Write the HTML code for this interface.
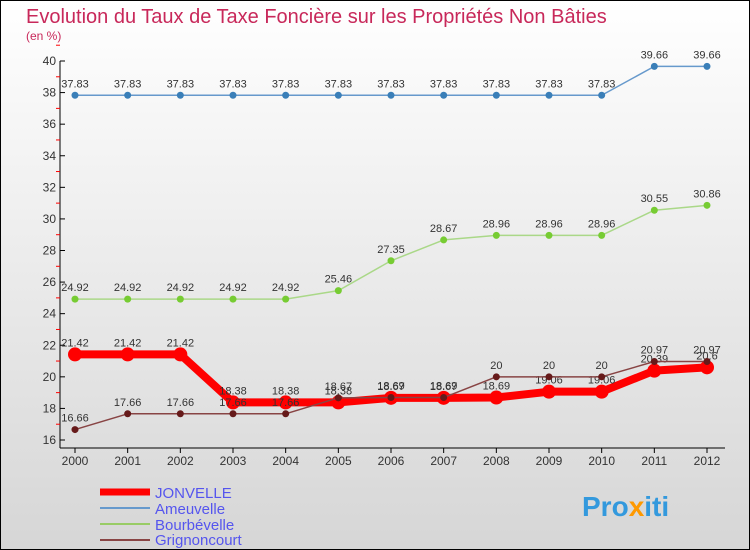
<!DOCTYPE html>
<html><head><meta charset="utf-8"><style>
body{margin:0;width:750px;height:550px;overflow:hidden;font-family:"Liberation Sans",sans-serif}
svg{display:block}
</style></head><body>
<svg width="750" height="550">
<defs><linearGradient id="bg" x1="0" y1="0" x2="0" y2="1"><stop offset="0" stop-color="#ffffff"/><stop offset="1" stop-color="#d6d6d6"/></linearGradient></defs>
<rect x="0.5" y="0.5" width="749" height="549" fill="url(#bg)" stroke="#000"/>
<text x="26" y="23" font-size="20" fill="#c8285a">Evolution du Taux de Taxe Foncière sur les Propriétés Non Bâties</text>
<text x="26" y="40" font-size="12" fill="#c8285a">(en %)</text>
<g id="axes"></g><g id="series"></g>
<g>
<line x1="100" y1="492" x2="150" y2="492" stroke="#f00" stroke-width="7"/>
<text x="155" y="498" font-size="15" fill="#5555ee">JONVELLE</text>
<line x1="100" y1="508" x2="150" y2="508" stroke="#6699cc" stroke-width="2"/>
<text x="155" y="514" font-size="15" fill="#5555ee">Ameuvelle</text>
<line x1="100" y1="524" x2="150" y2="524" stroke="#99cc66" stroke-width="2"/>
<text x="155" y="530" font-size="15" fill="#5555ee">Bourbévelle</text>
<line x1="100" y1="540" x2="150" y2="540" stroke="#884444" stroke-width="2"/>
<text x="155" y="545" font-size="15" fill="#5555ee">Grignoncourt</text>
</g>
<text x="582" y="516" font-size="28" font-weight="bold" fill="#3399dd">Pro<tspan fill="#ff9900">x</tspan>iti</text>
</svg>
<script>
const years=[2000,2001,2002,2003,2004,2005,2006,2007,2008,2009,2010,2011,2012];
const yTicks=[16,18,20,22,24,26,28,30,32,34,36,38,40];
const jonvelle=[21.42,21.42,21.42,18.38,18.38,18.38,18.67,18.67,18.69,19.06,19.06,20.39,20.6];
const ameuvelle=[37.83,37.83,37.83,37.83,37.83,37.83,37.83,37.83,37.83,37.83,37.83,39.66,39.66];
const bourbevelle=[24.92,24.92,24.92,24.92,24.92,25.46,27.35,28.67,28.96,28.96,28.96,30.55,30.86];
const grignoncourt=[16.66,17.66,17.66,17.66,17.66,18.67,18.69,18.69,20,20,20,20.97,20.97];
const NS="http://www.w3.org/2000/svg";
const X=i=>75+i*(707-75)/(years.length-1);
const Y=v=>440-(v-16)*(440-61)/24;
function mk(t,a,p){const e=document.createElementNS(NS,t);for(const k in a)e.setAttribute(k,a[k]);p.appendChild(e);return e;}
const ax=document.getElementById('axes');
const yl=mk('line',{x1:60,y1:61,x2:60,y2:448,stroke:'#000'},ax);


const xl=mk('line',{x1:60,y1:448,x2:725,y2:448,stroke:'#000'},ax);


yTicks.forEach(v=>{
 mk('line',{x1:60,y1:Y(v),x2:65,y2:Y(v),stroke:'#000'},ax);
 mk('line',{x1:56,y1:Y(v+1),x2:60,y2:Y(v+1),stroke:'#f00'},ax);
 const t=mk('text',{x:56,y:Y(v)+4,'text-anchor':'end','font-size':12,fill:'#333'},ax);t.textContent=v;
 
 
});
years.forEach((y,i)=>{
 mk('line',{x1:X(i),y1:448,x2:X(i),y2:453,stroke:'#000'},ax);
 const t=mk('text',{x:X(i),y:465,'text-anchor':'middle','font-size':12,fill:'#333'},ax);t.textContent=y;
 
 
});
const sg=document.getElementById('series');
function draw(vals,color,w,r,dot,name){
 const g=mk('g',{},sg);
 
 
 mk('polyline',{points:vals.map((v,i)=>X(i)+','+Y(v)).join(' '),fill:'none',stroke:color,'stroke-width':w,'stroke-linejoin':'round'},g);
 vals.forEach((v,i)=>{
  const c=mk('circle',{cx:X(i),cy:Y(v),r:r,fill:dot},g);
  
  
  const t=mk('text',{x:X(i),y:Y(v)-8,'text-anchor':'middle','font-size':11,fill:'#333'},g);t.textContent=String(v);
 });
}
draw(ameuvelle,'#6699cc',1.5,3.5,'#3a7fb8','series-ameuvelle');
draw(bourbevelle,'#aad888',1.5,3.5,'#77cc33','series-bourbevelle');
draw(jonvelle,'#f00',8,7,'#f00','series-jonvelle');
draw(grignoncourt,'#884444',1.5,3.5,'#661a1a','series-grignoncourt');
</script>
</body></html>
